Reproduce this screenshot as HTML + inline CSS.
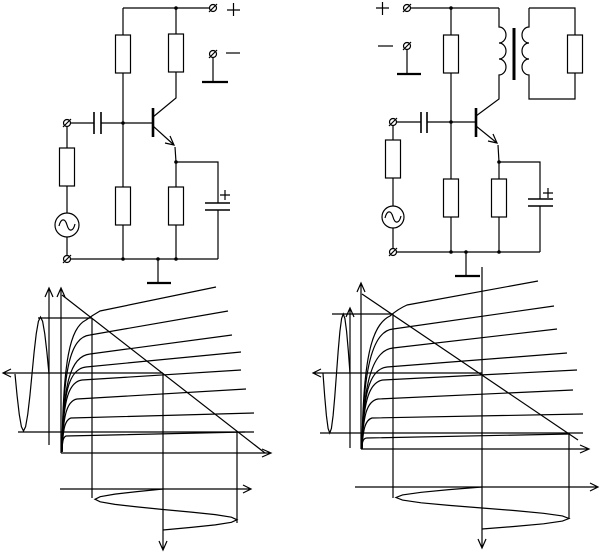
<!DOCTYPE html>
<html><head><meta charset="utf-8"><style>
html,body{margin:0;padding:0;background:#fff;}
svg{display:block;}
</style></head><body>
<svg width="601" height="554" viewBox="0 0 601 554" xmlns="http://www.w3.org/2000/svg">
<g fill="none" stroke="#000" stroke-width="1.2" stroke-linecap="butt" stroke-linejoin="miter">

<!-- ============ LEFT CIRCUIT ============ -->
<!-- top wire -->
<path d="M123,8 H209.5"/>
<!-- left divider -->
<path d="M123,8 V35 M123,73 V187 M123,225 V259"/>
<rect x="115.5" y="35" width="15" height="38"/>
<rect x="115.5" y="187" width="15" height="38"/>
<!-- collector branch -->
<path d="M176,8 V34 M176,72 V98 L153,117"/>
<rect x="168.5" y="34" width="15" height="38"/>
<!-- base bar -->
<path d="M153,108 V137" stroke-width="2.6"/>
<!-- base wire and capacitor -->
<path d="M70.5,123 H94 M101,123 H153"/>
<path d="M94,112 V134 M101,112 V134" stroke-width="1.6"/>
<!-- emitter -->
<path d="M153,126 L174,145"/>
<path d="M170,136 L174,145 L165,143"/>
<path d="M175,147 L176,162 V187 M176,225 V259"/>
<rect x="168.5" y="187" width="15" height="38"/>
<!-- emitter capacitor -->
<path d="M176,162 H218 V203 M218,210 V259"/>
<path d="M205,203 H230 M205,210 H230" stroke-width="1.6"/>
<path d="M220,195 H230 M225,190 V200"/>
<!-- bottom wire -->
<path d="M70.5,259 H218"/>
<!-- ground -->
<path d="M158,259 V283"/>
<path d="M147,283 H171" stroke-width="2.2"/>
<!-- input branch -->
<path d="M67,126.5 V148 M67,186 V213 M67,237 V255.5"/>
<rect x="59.5" y="148" width="15" height="38"/>
<circle cx="67" cy="225" r="12"/>
<path d="M59,226 C61,218 65,218 67,225 C69,232 73,232 75,224"/>
<!-- terminals left -->
<circle cx="67" cy="123" r="3.5"/><path d="M63,127 L71,119"/>
<circle cx="67" cy="259" r="3.5"/><path d="M63,263 L71,255"/>
<circle cx="213" cy="8" r="3.5"/><path d="M209,12 L217,4"/>
<circle cx="213" cy="54" r="3.5"/><path d="M209,58 L217,50"/>
<!-- + / - -->
<path d="M227,10 H240 M233.5,3 V16"/>
<path d="M226,53 H240"/>
<path d="M213,57.5 V82"/>
<path d="M202,82 H228" stroke-width="2.2"/>

<!-- ============ RIGHT CIRCUIT ============ -->
<path d="M376,8 H389 M382.5,2 V15"/>
<path d="M378,46 H393"/>
<circle cx="407" cy="8" r="3.5"/><path d="M403,12 L411,4"/>
<circle cx="407" cy="46" r="3.5"/><path d="M403,50 L411,42"/>
<path d="M407,49.5 V74"/>
<path d="M397,74 H421" stroke-width="2.2"/>
<!-- top wire -->
<path d="M410.5,8 H499"/>
<!-- divider -->
<path d="M451,8 V35 M451,73 V179 M451,217 V252"/>
<rect x="443.5" y="35" width="15" height="38"/>
<rect x="443.5" y="179" width="15" height="38"/>
<!-- transformer primary -->
<path d="M499,8 V27 A7,8 0 0 1 499,43 A7,8 0 0 1 499,59 A7,8 0 0 1 499,75 V99 L476,116"/>
<!-- core -->
<path d="M514,28 V80" stroke-width="3"/>
<!-- secondary -->
<path d="M529,8 V27 A7,8 0 0 0 529,43 A7,8 0 0 0 529,59 A7,8 0 0 0 529,75 V99 H575 V73 M575,35 V8 H529"/>
<rect x="567.5" y="35" width="15" height="38"/>
<!-- base bar -->
<path d="M476,108 V137" stroke-width="2.6"/>
<!-- base wire & cap -->
<path d="M396.5,122 H421 M427,122 H476"/>
<path d="M421,112 V133 M427,112 V133" stroke-width="1.6"/>
<!-- emitter -->
<path d="M476,126 L497,143"/>
<path d="M493,134 L497,143 L488,141"/>
<path d="M498,145 L499,162 V179 M499,217 V252"/>
<rect x="491.5" y="179" width="15" height="38"/>
<path d="M499,162 H540 V199 M540,206 V252"/>
<path d="M528,199 H553 M528,206 H553" stroke-width="1.6"/>
<path d="M543,193 H553 M548,188 V198"/>
<!-- bottom wire -->
<path d="M396.5,252 H540"/>
<path d="M466,252 V276"/>
<path d="M455,276 H480" stroke-width="2.2"/>
<!-- input -->
<circle cx="393" cy="122" r="3.5"/><path d="M389,126 L397,118"/>
<circle cx="393" cy="252" r="3.5"/><path d="M389,256 L397,248"/>
<path d="M393,125.5 V140 M393,178 V206 M393,228 V248.5"/>
<rect x="385.5" y="140" width="15" height="38"/>
<circle cx="393" cy="217" r="11"/>
<path d="M385,218 C387,210 391,210 393,217 C395,224 399,224 401,216"/>

<!-- ============ LEFT GRAPH ============ -->
<path d="M49,288 V445 M45,297 L49,288 L53,297"/>
<path d="M61,288 V453 M57,297 L61,288 L65,297"/>
<path d="M61,453 H271 M262,449 L271,453 L262,457"/>
<path d="M3,373 H163 M11,369 L3,373 L11,377"/>
<path d="M18,432 H254"/>
<path d="M38,318 H92"/>
<polyline points="49,374 46.9,352.2 44.75,333.7 42.6,321.3 40.5,317 38.4,321.3 36.25,333.7 34.1,352.2 32,374 29.9,395.8 27.75,414.3 25.6,426.7 23.5,431 21.4,426.7 19.25,414.3 17.1,395.8 15,374"/>
<path d="M62,295 L265,453"/>
<path d="M92,318 V498"/>
<path d="M163,373 V550 M159,541 L163,550 L167,541"/>
<path d="M237,432 V523"/>
<path d="M60,489 H251 M243,485 L251,489 L243,493"/>
<polyline points="163,489 137,491.6 114.9,494.1 100.2,496.7 95,499.3 100.2,501.8 114.9,504.4 137,506.9 163,509.5 191.3,512.1 215.3,514.6 231.4,517.2 237,519.8 231.4,522.3 215.3,524.9 191.3,527.4 163,530"/>
<!-- characteristics -->
<path d="M62,452 C63,360 70,328 86,320 Q93,315 100,311 L216,287"/>
<path d="M62,452 C63,370 70,337 90,335 L228,311"/>
<path d="M62,452 C63,385 70,356 90,354 L232,335"/>
<path d="M62,452 C63,395 68,369 86,367 L241,352"/>
<path d="M62,452 C63,405 67,382 82,380 L241,370"/>
<path d="M62,452 C63,418 66,401 77,399 L246,389"/>
<path d="M62,452 C63,432 64,420 71,418 L254,413"/>
<path d="M62,452 C62,444 63,437 66,436 L245,432"/>

<!-- ============ RIGHT GRAPH ============ -->
<path d="M350,308 V448 M346,317 L350,308 L354,317"/>
<path d="M361,283 V449 M357,292 L361,283 L365,292"/>
<path d="M361,449 H589 M580,445 L589,449 L580,453"/>
<path d="M313,373 H482 M321,369 L313,373 L321,377"/>
<path d="M320,433 H583"/>
<path d="M332,314 H393"/>
<polyline points="350,373.5 348.3,350.7 346.6,331.4 344.9,318.5 343.25,314 341.6,318.5 339.9,331.4 338.2,350.7 336.5,373.5 334.8,396.3 333.1,415.6 331.4,428.5 329.75,433 328.1,428.5 326.4,415.6 324.7,396.3 323,373.5"/>
<path d="M362,294 L578,440"/>
<path d="M393,314 V498"/>
<path d="M482,267 V548 M478,539 L482,548 L486,539"/>
<path d="M569,433 V519"/>
<path d="M355,487 H598 M590,483 L598,487 L590,491"/>
<polyline points="482,487 449.1,489.6 421.2,492.3 402.5,494.9 396,497.5 402.5,500.1 421.2,502.8 449.1,505.4 482,508 515.3,510.6 543.5,513.3 562.4,515.9 569,518.5 562.4,521.1 543.5,523.8 515.3,526.4 482,529"/>
<!-- characteristics -->
<path d="M362,449 C363,360 371,325 390,316 Q398,309 407,305 L538,281"/>
<path d="M362,449 C363,370 372,331 393,329 L554,306"/>
<path d="M362,449 C363,385 372,350 393,348 L557,329"/>
<path d="M362,449 C363,395 369,369 387,367 L567,353"/>
<path d="M362,449 C363,405 368,382 383,380 L577,370"/>
<path d="M362,449 C363,418 366,401 378,399 L573,390"/>
<path d="M362,449 C363,430 365,420 372,418 L583,414"/>
<path d="M362,449 C362,442 363,438 367,438 L570,434"/>
</g>
<g fill="#000">
<circle cx="176" cy="8" r="1.8"/>
<circle cx="123" cy="123" r="1.8"/>
<circle cx="176" cy="162" r="1.8"/>
<circle cx="123" cy="259" r="1.8"/>
<circle cx="158" cy="259" r="1.8"/>
<circle cx="176" cy="259" r="1.8"/>
<circle cx="451" cy="8" r="1.8"/>
<circle cx="451" cy="122" r="1.8"/>
<circle cx="499" cy="162" r="1.8"/>
<circle cx="451" cy="252" r="1.8"/>
<circle cx="466" cy="252" r="1.8"/>
<circle cx="499" cy="252" r="1.8"/>
</g>
</svg>
</body></html>
